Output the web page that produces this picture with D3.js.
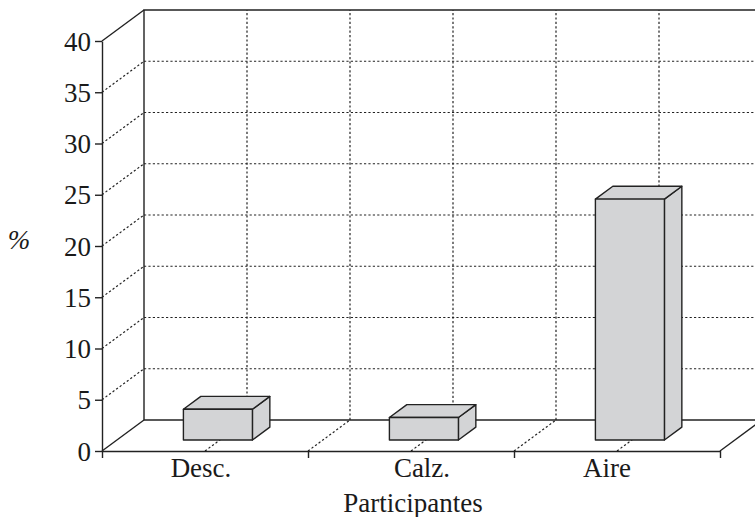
<!DOCTYPE html>
<html>
<head>
<meta charset="utf-8">
<script src="https://cdn.jsdelivr.net/npm/d3@7"></script>
<style>
  html, body { margin: 0; padding: 0; background: #fff; }
  svg { display: block; }
  text { font-family: "Liberation Serif", "Times New Roman", serif; fill: #1a1a1a; }
</style>
</head>
<body>
<svg id="chart" width="755" height="517"></svg>
<script>
// Participant categories and their percentages
const categories = ["Desc.", "Calz.", "Aire"];
const values = [3.0, 2.2, 23.5];
const yTicks = [0, 5, 10, 15, 20, 25, 30, 35, 40];
const yTitle = "%";
const xTitle = "Participantes";

// Hand-tuned horizontal nudges for the category labels (px)
const labelNudge = [-4, 11, -10];

const svg = d3.select("#chart");
const FONT = 27;

// Front plane scales
const y = d3.scaleLinear().domain([0, 40]).range([451, 41]);
const x = d3.scaleBand().domain(categories).range([102, 720]).paddingInner(0).paddingOuter(0);
const xIdx = d3.scaleLinear().domain([0, categories.length]).range([102, 720]);

// Depth offset of the back plane
const DX = 42, DY = -31;
const proj = (px, py, z) => [px + z * DX, py + z * DY];

const ink = "#222";
const solid = g => g.attr("stroke", ink).attr("stroke-width", 1.4).attr("fill", "none");
const dotted = g => g.attr("stroke", ink).attr("stroke-width", 1.2).attr("stroke-dasharray", "2.2,2.2").attr("fill", "none");
const line = d3.line();

const x0 = xIdx(0), x1 = xIdx(categories.length);
const yBase = y(0), yTop = y(40);

// Back wall dotted gridlines (horizontal) and side wall diagonals
const gridG = svg.append("g");
yTicks.filter(v => v > 0 && v < 40).forEach(v => {
  gridG.append("path").call(dotted)
    .attr("d", line([proj(x0, y(v), 1), proj(x1, y(v), 1)]));
  gridG.append("path").call(dotted)
    .attr("d", line([proj(x0, y(v), 0), proj(x0, y(v), 1)]));
});

// Half-category gridlines on back wall and floor
d3.range(1, categories.length * 2).forEach(k => {
  const px = xIdx(k / 2);
  gridG.append("path").call(dotted)
    .attr("d", line([proj(px, yBase, 1), proj(px, yTop, 1)]));
  gridG.append("path").call(dotted)
    .attr("d", line([proj(px, yBase, 0), proj(px, yBase, 1)]));
});

// Frame: back wall edges, floor edges, side wall top
const frame = svg.append("g");
frame.append("path").call(solid)
  .attr("d", line([proj(x0, yBase, 1), proj(x0, yTop, 1), proj(x1 + 40, yTop, 1)]));
frame.append("path").call(solid)
  .attr("d", line([proj(x0, yBase, 1), proj(x1, yBase, 1)]));
frame.append("path").call(solid)
  .attr("d", line([proj(x0, yBase, 0), proj(x0, yBase, 1)]));
frame.append("path").call(solid)
  .attr("d", line([proj(x0, yTop, 0), proj(x0, yTop, 1)]));
frame.append("path").call(solid)
  .attr("d", line([proj(x1, yBase, 0), proj(x1, yBase, 1)]));

// 3D bars
const zFront = 0.355, zBack = 0.77;
const barW = x.bandwidth() * 0.335;
const fill = "#d3d4d6";
const bars = svg.append("g");
categories.forEach((c, i) => {
  const cx = x(c) + x.bandwidth() / 2 - 2;
  const l = cx - barW / 2, r = cx + barW / 2;
  const yb = y(0), yt = y(values[i]);
  const poly = pts => bars.append("path")
    .attr("d", line(pts) + "Z")
    .attr("fill", fill).attr("stroke", ink).attr("stroke-width", 1.4)
    .attr("stroke-linejoin", "round");
  poly([proj(r, yb, zFront), proj(r, yb, zBack), proj(r, yt, zBack), proj(r, yt, zFront)]); // side
  poly([proj(l, yt, zFront), proj(l, yt, zBack), proj(r, yt, zBack), proj(r, yt, zFront)]); // top
  poly([proj(l, yb, zFront), proj(r, yb, zFront), proj(r, yt, zFront), proj(l, yt, zFront)]); // front
});

// Y axis on the front plane
const yAxis = svg.append("g")
  .attr("transform", `translate(${x0},0)`)
  .call(d3.axisLeft(y).tickValues(yTicks).tickSize(7).tickSizeOuter(0).tickPadding(4).tickFormat(d3.format("d")));
yAxis.select(".domain").attr("stroke", ink).attr("stroke-width", 1.4);
yAxis.selectAll(".tick line").attr("stroke", ink).attr("stroke-width", 1.4);
yAxis.selectAll(".tick text")
  .attr("font-family", "Liberation Serif, Times New Roman, serif")
  .attr("font-size", FONT).attr("fill", "#1a1a1a").attr("dy", "0.34em");

// X axis: boundary ticks along the front floor edge
const xAxis = svg.append("g")
  .attr("transform", `translate(0,${yBase})`)
  .call(d3.axisBottom(xIdx).tickValues(d3.range(0, categories.length + 1)).tickSize(7).tickSizeOuter(0).tickFormat(""));
xAxis.select(".domain").attr("stroke", ink).attr("stroke-width", 1.4);
xAxis.selectAll(".tick line").attr("stroke", ink).attr("stroke-width", 1.4);

// Category labels
svg.append("g").selectAll("text")
  .data(categories)
  .join("text")
  .attr("x", (d, i) => x(d) + x.bandwidth() / 2 + labelNudge[i])
  .attr("y", 477)
  .attr("text-anchor", "middle")
  .attr("font-size", FONT)
  .text(d => d);

// Axis titles
svg.append("text")
  .attr("x", (x0 + x1) / 2 + 2).attr("y", 512)
  .attr("text-anchor", "middle").attr("font-size", FONT)
  .text(xTitle);

svg.append("text")
  .attr("x", 19).attr("y", 249)
  .attr("text-anchor", "middle").attr("font-size", FONT)
  .attr("font-style", "italic")
  .text(yTitle);
</script>
</body>
</html>
